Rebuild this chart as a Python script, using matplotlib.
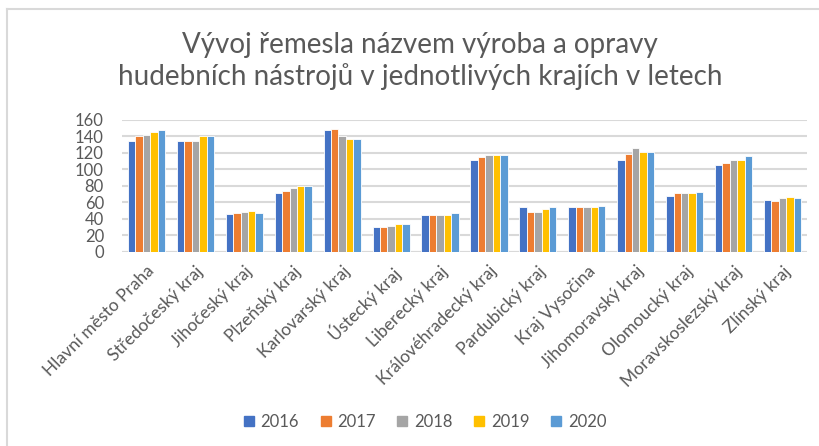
import numpy as np
import matplotlib.pyplot as plt
from matplotlib.patches import Patch
from matplotlib.lines import Line2D

plt.rcParams['font.family'] = ['Lato', 'DejaVu Sans']

kraje = ["Hlavní město Praha", "Středočeský kraj", "Jihočeský kraj", "Plzeňský kraj",
         "Karlovarský kraj", "Ústecký kraj", "Liberecký kraj", "Královéhradecký kraj",
         "Pardubický kraj", "Kraj Vysočina", "Jihomoravský kraj", "Olomoucký kraj",
         "Moravskoslezský kraj", "Zlínský kraj"]
roky = ["2016", "2017", "2018", "2019", "2020"]

v2016 = [135, 134, 46, 72, 148, 30, 45, 111, 54, 54, 112, 68, 105, 63]
v2017 = [140, 134, 47, 74, 149, 30, 45, 115, 48, 54, 119, 71, 108, 62]
v2018 = [142, 135, 49, 78, 141, 32, 45, 117, 49, 54, 126, 71, 111, 65]
v2019 = [146, 141, 50, 80, 137, 34, 45, 117, 52, 55, 121, 71, 112, 67]
v2020 = [148, 140, 47, 80, 137, 34, 47, 118, 54, 56, 121, 73, 116, 65]

barvy = ["#4472C4", "#ED7D31", "#A5A5A5", "#FFC000", "#5B9BD5"]
text_c = "#595959"

fig = plt.figure(figsize=(8.19, 4.46), dpi=100)
ax = fig.add_axes([122/819, 1-252/446, 685/819, 132/446])

x = np.arange(len(kraje))
w = 0.152
for i, (vals, c) in enumerate(zip([v2016, v2017, v2018, v2019, v2020], barvy)):
    ax.bar(x + (i - 2) * w, vals, w, color=c, edgecolor="white", linewidth=0.6, zorder=3)

ax.set_xlim(-0.5, len(kraje) - 0.5)
ax.set_ylim(0, 160)
ax.set_yticks(range(0, 161, 20))
ax.yaxis.grid(True, color="#d9d9d9", linewidth=1.5, zorder=0)
for s in ax.spines.values():
    s.set_visible(False)
ax.axhline(0, color="#d9d9d9", linewidth=1.5, zorder=1)
ax.tick_params(axis="y", length=0, pad=13, labelsize=12, labelcolor=text_c)
ax.tick_params(axis="x", length=0, pad=8, labelsize=12.5, labelcolor=text_c)
ax.set_xticks(x)
ax.set_xticklabels(kraje, rotation=45, ha="right", rotation_mode="anchor")

fig.text(420/819, 1-45/446, "Vývoj řemesla názvem výroba a opravy", ha="center", va="center",
         fontsize=20, color=text_c)
fig.text(420/819, 1-77/446, "hudebních nástrojů v jednotlivých krajích v letech", ha="center",
         va="center", fontsize=20, color=text_c)

handles = [Patch(color=c) for c in barvy]
fig.legend(handles, roky, loc="center", bbox_to_anchor=(425/819, 1-422/446), ncol=5,
           frameon=False, fontsize=12, labelcolor=text_c, handlelength=0.6, handleheight=0.6,
           columnspacing=1.3, handletextpad=0.4)

# chart border (cropped on right and bottom)
fig.add_artist(Line2D([7/819, 1], [1-9/446, 1-9/446], color="#d9d9d9", linewidth=1.5))
fig.add_artist(Line2D([7/819, 7/819], [0, 1-9/446], color="#d9d9d9", linewidth=1.5))

fig.savefig("out.png", dpi=100)
